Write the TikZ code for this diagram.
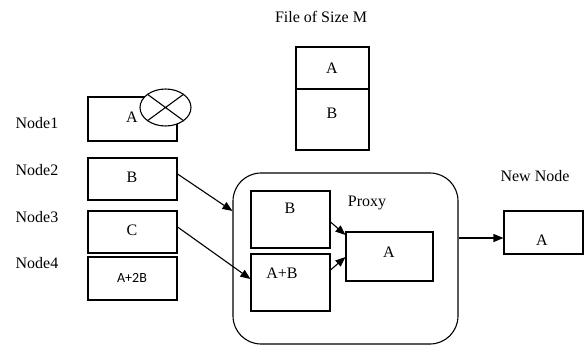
\documentclass[tikz,border=0pt]{standalone}
\usepackage{fontspec}
\setmainfont{Liberation Serif}
\newfontfamily\carl{Carlito}
\usetikzlibrary{arrows.meta,shapes.geometric}
\begin{document}
\begin{tikzpicture}[x=1pt,y=-1pt,
  box/.style={draw,line width=1.1pt},
  lbl/.style={font=\fontsize{16}{18}\selectfont,inner sep=0pt},
  arr/.style={line width=1.1pt,-{Triangle[length=10pt,width=8pt]}}]
\useasboundingbox (0,0) rectangle (588,348);
% file
\node[lbl] (ftitle) at (321,17) {File of Size M};
\draw[box] (296,47) rectangle (369,150);
\draw[line width=1.1pt] (296,89) -- (369,89);
\node[lbl] (fa) at (332,68) {A};
\node[lbl] (fb) at (332,113) {B};
% left nodes
\node[lbl] (l1) at (37,123) {Node1};
\node[lbl] (l2) at (37,170) {Node2};
\node[lbl] (l3) at (37,217) {Node3};
\node[lbl] (l4) at (37,263) {Node4};
\node[box,minimum width=89pt,minimum height=44pt,inner sep=0pt] (n1) at (132.5,119) {};
\node[lbl] at (132,117) {A};
\node[draw,line width=1.1pt,fill=white,ellipse,minimum width=51pt,minimum height=37pt,inner sep=0pt] (x1) at (165.5,107.5) {};
\draw[line width=1.1pt] (x1.north west) -- (x1.south east) (x1.north east) -- (x1.south west);
\node[box,minimum width=89pt,minimum height=42pt,inner sep=0pt] (n2) at (132.5,179) {};
\node[lbl] at (132,177) {B};
\node[box,minimum width=89pt,minimum height=42pt,inner sep=0pt] (n3) at (132.5,232) {};
\node[lbl] at (132,230) {C};
\node[box,minimum width=89pt,minimum height=43pt,inner sep=0pt] (n4) at (132.5,278.5) {};
\node[inner sep=0pt,font=\carl\fontsize{14}{16}\selectfont] at (132,278) {A+2B};
% proxy
\node[draw,line width=1.1pt,rounded corners=28pt,minimum width=225pt,minimum height=171pt,inner sep=0pt] (proxy) at (345.5,258.5) {};
\node[lbl] (pl) at (367,203) {Proxy};
\node[box,minimum width=79pt,minimum height=57pt,inner sep=0pt] (pb) at (290.5,219.5) {};
\node[lbl] at (290,208) {B};
\node[box,minimum width=79pt,minimum height=57pt,inner sep=0pt] (pab) at (290.5,282.5) {};
\node[lbl] at (282,273) {A+B};
\node[box,minimum width=87pt,minimum height=49pt,inner sep=0pt] (pa) at (389.5,256.5) {};
\node[lbl] at (389,252) {A};
% new node
\node[lbl] (nl) at (535,176) {New Node};
\node[box,minimum width=79pt,minimum height=43pt,inner sep=0pt] (nn) at (543.5,232.5) {};
\node[lbl] at (542,240) {A};
% arrows
\draw[arr] ([yshift=5pt]n2.east) -- ([yshift=47.5pt]proxy.west);
\draw[arr] ([yshift=5pt]n3.east) -- ([yshift=3.5pt]pab.west);
\draw[arr] ([yshift=-2.5pt]pb.east) -- ([yshift=21.5pt]pa.west);
\draw[arr] ([yshift=12.5pt]pab.east) -- ([yshift=-0.5pt]pa.west);
\draw[arr] ([yshift=20.5pt]proxy.east) -- ([yshift=-5.5pt]nn.west);
\end{tikzpicture}
\end{document}
